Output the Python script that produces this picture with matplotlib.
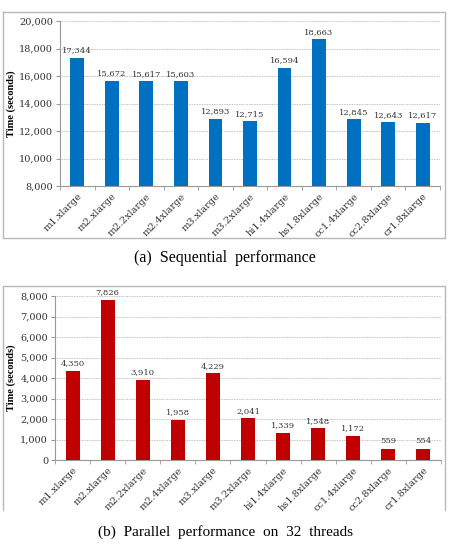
import matplotlib
matplotlib.use("Agg")
import matplotlib.pyplot as plt
from matplotlib.lines import Line2D
import numpy as np

categories = ["m1.xlarge", "m2.xlarge", "m2.2xlarge", "m2.4xlarge", "m3.xlarge",
              "m3.2xlarge", "hi1.4xlarge", "hs1.8xlarge", "cc1.4xlarge",
              "cc2.8xlarge", "cr1.8xlarge"]
sequential = [17344, 15672, 15617, 15603, 12893, 12715, 16594, 18663, 12845, 12643, 12617]
parallel = [4350, 7826, 3910, 1958, 4229, 2041, 1339, 1548, 1172, 559, 554]

plt.rcParams['font.family'] = ['Liberation Serif', 'DejaVu Serif']
tickfont = ['DejaVu Serif']

W, H = 450, 544
fig = plt.figure(figsize=(W / 100, H / 100), dpi=100)

def fx(x):
    return x / W

def fy(y):
    return 1 - y / H

def panel(rect, values, color, ylim, step, ylabelx):
    ax = fig.add_axes(rect)
    x = np.arange(len(categories))
    ax.bar(x, values, width=0.4, color=color, zorder=3)
    ax.set_xlim(-0.5, len(categories) - 0.5)
    ax.set_ylim(*ylim)
    ticks = np.arange(ylim[0], ylim[1] + 1, step)
    ax.set_yticks(ticks)
    ax.set_yticklabels([f"{v:,}" for v in ticks], fontsize=7, color='#333333',
                       family=tickfont)
    ax.set_xticks(x)
    ax.set_xticklabels(categories, rotation=45, ha='right', rotation_mode='anchor',
                       fontsize=7, color='#333333', family=tickfont)
    ax.tick_params(axis='x', length=0, pad=4)
    ax.set_xticks(np.arange(-0.5, len(categories)), minor=True)
    ax.tick_params(axis='x', which='minor', length=3, color='#999999')
    ax.tick_params(axis='y', length=3, color='#999999', pad=2)
    ax.grid(axis='y', color='#aaaaaa', linestyle=(0, (1, 1)), linewidth=0.6, zorder=0)
    for s in ['top', 'right']:
        ax.spines[s].set_visible(False)
    for s in ['left', 'bottom']:
        ax.spines[s].set_color('#999999')
        ax.spines[s].set_linewidth(0.8)
    ax.set_ylabel("Time (seconds)", fontsize=7.5, fontweight='bold')
    ax.yaxis.set_label_coords(ylabelx, 0.5)
    for xi, v in zip(x, values):
        ax.annotate(f"{v:,}", (xi, v), xytext=(0, 2.5), textcoords='offset points',
                    ha='center', va='bottom', fontsize=6, color='#333333',
                    family=tickfont)
    return ax

# frames
gray = '#b8b8b8'
fig.add_artist(Line2D([fx(3), fx(445), fx(445), fx(3), fx(3)],
                      [fy(12), fy(12), fy(238), fy(238), fy(12)],
                      transform=fig.transFigure, color=gray, linewidth=1))
fig.add_artist(Line2D([fx(3), fx(3), fx(445), fx(445)],
                      [fy(510), fy(286), fy(286), fy(510)],
                      transform=fig.transFigure, color=gray, linewidth=1))

panel([fx(60), fy(186), fx(380), (186 - 21) / H], sequential, '#0070C0', (8000, 20000), 2000,
      (16 - 60) / 380)
panel([fx(55), fy(460), fx(386), (460 - 296) / H], parallel, '#C00000', (0, 8000), 1000,
      (16 - 55) / 386)

fig.text(0.5, fy(258), "(a)  Sequential  performance", ha='center', va='center', fontsize=11.5)
fig.text(0.5, fy(532), "(b)  Parallel  performance  on  32  threads", ha='center', va='center', fontsize=11)

fig.savefig("out.png", dpi=100)
